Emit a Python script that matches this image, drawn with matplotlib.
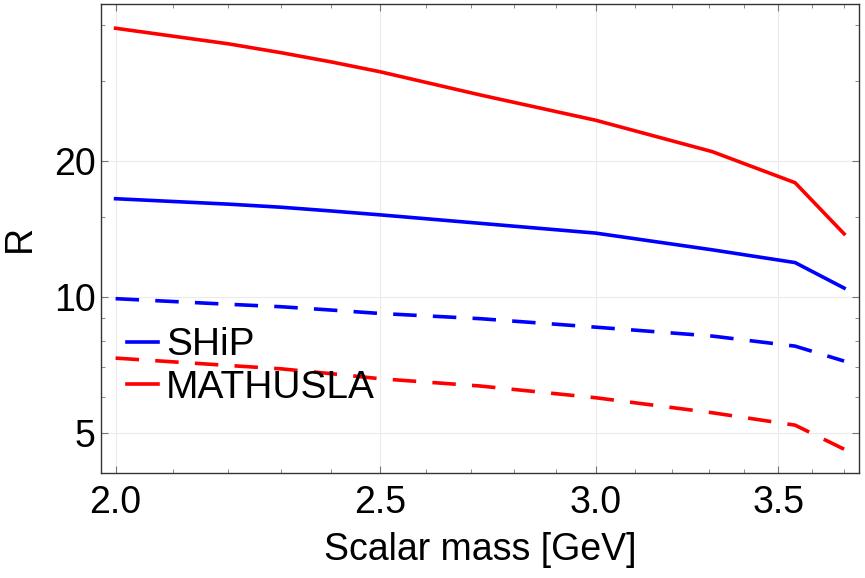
import numpy as np
import matplotlib.pyplot as plt
from matplotlib.ticker import FixedLocator, NullFormatter

plt.rcParams['font.family'] = ['Liberation Sans', 'DejaVu Sans']

# masse du scalaire [GeV]
masse = [2.0, 2.2, 2.3, 2.4, 2.5, 2.72, 3.0, 3.31, 3.55, 3.7]

# R pour SHiP et MATHUSLA (trait plein / pointillés)
R_ship = [16.5, 16.05, 15.8, 15.5, 15.2, 14.56, 13.85, 12.72, 11.92, 10.47]
R_mathusla = [39.3, 36.3, 34.7, 33.1, 31.5, 28.0, 24.6, 20.97, 17.9, 13.8]
R_ship_dash = [9.92, 9.64, 9.52, 9.36, 9.20, 8.96, 8.58, 8.20, 7.79, 7.22]
R_mathusla_dash = [7.33, 7.06, 6.94, 6.77, 6.60, 6.36, 5.99, 5.55, 5.21, 4.61]

xticks_major = [2.0, 2.5, 3.0, 3.5]
xticks_minor = [2.1, 2.2, 2.3, 2.4, 2.6, 2.7, 2.8, 2.9, 3.1, 3.2, 3.3, 3.4, 3.6, 3.7]
yticks_major = [5, 10, 20]
yticks_minor = [6, 7, 8, 9, 15, 30, 40]

fig = plt.figure(figsize=(8.65, 5.78), dpi=100)
ax = fig.add_axes([0.1164, 0.1822, 0.9931 - 0.1164, 0.9926 - 0.1822])

lw = 2.6
ax.plot(masse, R_ship, color='#0000ff', lw=lw, label='SHiP')
ax.plot(masse, R_mathusla, color='#ff0000', lw=lw, label='MATHUSLA')
ax.plot(masse, R_ship_dash, color='#0000ff', lw=lw, dashes=(6.5, 4.5))
ax.plot(masse, R_mathusla_dash, color='#ff0000', lw=lw, dashes=(6.5, 4.5))

ax.set_xscale('log')
ax.set_yscale('log')
ax.set_xlim(1.975, 3.747)
ax.set_ylim(4.09, 44.4)

ax.xaxis.set_major_locator(FixedLocator(xticks_major))
ax.xaxis.set_minor_locator(FixedLocator(xticks_minor))
ax.set_xticklabels(['2.0', '2.5', '3.0', '3.5'])
ax.xaxis.set_minor_formatter(NullFormatter())
ax.yaxis.set_major_locator(FixedLocator(yticks_major))
ax.yaxis.set_minor_locator(FixedLocator(yticks_minor))
ax.set_yticklabels(['5', '10', '20'])
ax.yaxis.set_minor_formatter(NullFormatter())

ax.grid(True, which='major', color='#ebebeb', lw=0.8)
ax.tick_params(which='both', direction='in', top=True, right=True, color='#777777', labelsize=27)
ax.tick_params(axis='x', pad=9)
ax.tick_params(which='major', length=5, width=0.8)
ax.tick_params(which='minor', length=3, width=0.6)
for s in ax.spines.values():
    s.set_color('#333333')
    s.set_linewidth(1.0)

ax.set_xlabel('Scalar mass [GeV]', fontsize=27, labelpad=8)
ax.set_ylabel('R', fontsize=27, labelpad=12)

ax.legend(loc='upper left', bbox_to_anchor=(0.035, 0.31), frameon=False, fontsize=28,
          handlelength=0.78, handletextpad=0.22, labelspacing=0.17, borderpad=0, borderaxespad=0)

fig.savefig('out.png', dpi=100)
